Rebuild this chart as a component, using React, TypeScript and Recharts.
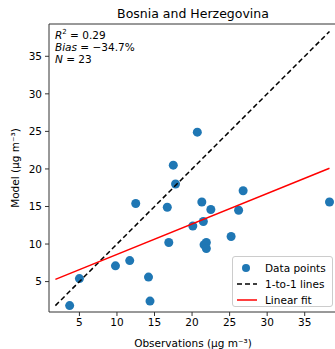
import { ScatterChart, Scatter, XAxis, YAxis, ReferenceLine, Label } from 'recharts';

const observations = [20.7, 17.5, 17.8, 12.5, 16.7, 21.3, 22.5, 21.5, 20.1, 26.8, 26.2, 38.3, 25.2, 16.9, 21.6, 21.9, 21.9, 5.0, 3.7, 9.8, 11.7, 14.2, 14.4];
const model = [24.9, 20.5, 18.0, 15.4, 14.9, 15.6, 14.6, 13.0, 12.4, 17.1, 14.5, 15.6, 11.0, 10.2, 9.9, 10.2, 9.4, 5.4, 1.8, 7.1, 7.8, 5.6, 2.4];

const oneToOneX = [1.8, 38.3];
const oneToOneY = [1.8, 38.3];
const fitX = [1.8, 38.3];
const fitY = [5.3, 20.1];

const ticks = [5, 10, 15, 20, 25, 30, 35];
const axisMin = 0.95;
const axisMax = 39.3;

const points = observations.map((x, i) => ({ x, y: model[i] }));
const oneToOne = oneToOneX.map((x, i) => ({ x, y: oneToOneY[i] }));
const fit = fitX.map((x, i) => ({ x, y: fitY[i] }));

const font = '"DejaVu Sans", sans-serif';
const blue = '#1f77b4';

const Dot = (props: any) => <circle cx={props.cx} cy={props.cy} r={4.5} fill={blue} />;
const NoShape = () => null;

export default function App() {
    return (
        <div style={{ position: 'absolute', left: 0, top: 0, width: 335, height: 349, overflow: 'hidden', background: '#fff', fontFamily: font }}>
            <div style={{ position: 'absolute', left: 49, width: 288, top: 6, textAlign: 'center', fontSize: 12.5, color: '#000' }}>
                Bosnia and Herzegovina
            </div>
            <ScatterChart width={345} height={349} margin={{ top: 24, right: 8, bottom: 0, left: 0 }}>
                <XAxis
                    type="number"
                    dataKey="x"
                    domain={[axisMin, axisMax]}
                    ticks={ticks}
                    allowDataOverflow
                    height={37}
                    tickSize={4}
                    tickMargin={3}
                    stroke="#333"
                    tick={{ fill: '#000', fontSize: 10.5, fontFamily: font }}
                >
                    <Label value="Observations (μg m⁻³)" position="insideBottom" offset={2} style={{ fill: '#000', fontSize: 10.5, fontFamily: font }} />
                </XAxis>
                <YAxis
                    type="number"
                    dataKey="y"
                    domain={[axisMin, axisMax]}
                    ticks={ticks}
                    allowDataOverflow
                    width={49}
                    tickSize={4}
                    tickMargin={3}
                    stroke="#333"
                    tick={{ fill: '#000', fontSize: 10.5, fontFamily: font }}
                >
                    <Label value="Model (μg m⁻³)" angle={-90} position="insideLeft" offset={15} style={{ fill: '#000', fontSize: 10.5, fontFamily: font, textAnchor: 'middle' }} />
                </YAxis>
                <ReferenceLine y={axisMax} stroke="#333" />
                <ReferenceLine x={axisMax} stroke="#333" />
                <Scatter data={points} shape={Dot} isAnimationActive={false} />
                <Scatter data={oneToOne} line={{ stroke: '#000', strokeWidth: 1.5, strokeDasharray: '5 3' }} shape={NoShape} isAnimationActive={false} />
                <Scatter data={fit} line={{ stroke: '#ff0000', strokeWidth: 1.5 }} shape={NoShape} isAnimationActive={false} />
            </ScatterChart>
            <div style={{ position: 'absolute', left: 55, top: 29, fontSize: 10.5, lineHeight: '12px', color: '#000' }}>
                <div><i>R</i><sup style={{ fontSize: 7, verticalAlign: 'top', lineHeight: '7px' }}>2</sup> = 0.29</div>
                <div><i>Bias</i> = −34.7%</div>
                <div><i>N</i> = 23</div>
            </div>
            <div style={{ position: 'absolute', left: 232, top: 256, width: 101, height: 51, border: '1px solid #ccc', borderRadius: 3, background: 'rgba(255,255,255,0.8)', boxSizing: 'border-box', fontSize: 10.5, color: '#000' }}>
                {[
                    { label: 'Data points', kind: 'dot' },
                    { label: '1-to-1 lines', kind: 'dash' },
                    { label: 'Linear fit', kind: 'line' },
                ].map((e, i) => (
                    <div key={e.label} style={{ position: 'absolute', left: 0, top: 3 + i * 16, height: 16, display: 'flex', alignItems: 'center' }}>
                        <svg width={32} height={16}>
                            {e.kind === 'dot' && <circle cx={13} cy={8} r={4} fill={blue} />}
                            {e.kind === 'dash' && <line x1={4} x2={24} y1={8} y2={8} stroke="#000" strokeWidth={1.5} strokeDasharray="5 3" />}
                            {e.kind === 'line' && <line x1={4} x2={24} y1={8} y2={8} stroke="#ff0000" strokeWidth={1.5} />}
                        </svg>
                        <span>{e.label}</span>
                    </div>
                ))}
            </div>
        </div>
    );
}
